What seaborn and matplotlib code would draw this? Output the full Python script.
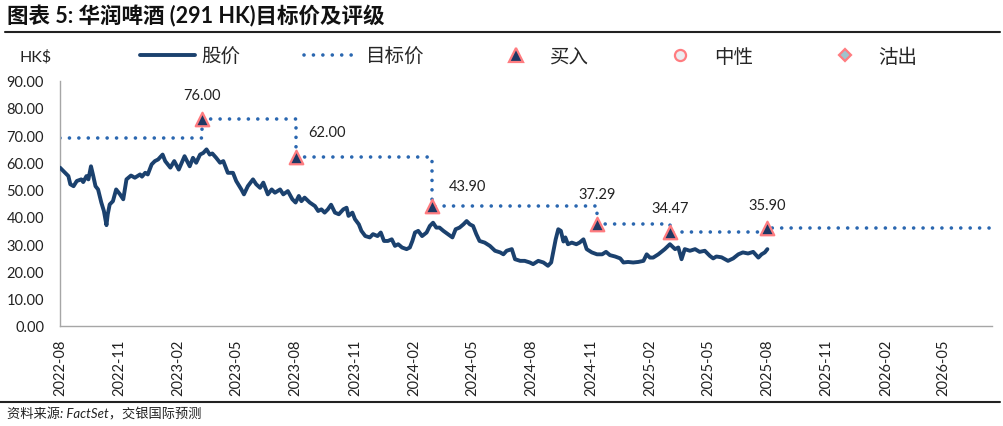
import numpy as np
import pandas as pd
import matplotlib
matplotlib.use('Agg')
import matplotlib.pyplot as plt
import matplotlib.dates as mdates
from matplotlib.lines import Line2D
from matplotlib.ticker import FormatStrFormatter
import seaborn as sns

# 股价 (HK$)
price_dates = [
    '2022-08-01', '2022-08-09', '2022-08-14', '2022-08-17', '2022-08-22', '2022-08-27',
    '2022-09-03', '2022-09-06', '2022-09-11', '2022-09-14', '2022-09-18', '2022-09-21',
    '2022-09-25', '2022-09-29', '2022-10-04', '2022-10-08', '2022-10-12', '2022-10-14',
    '2022-10-17', '2022-10-22', '2022-10-27', '2022-11-02', '2022-11-07', '2022-11-12',
    '2022-11-19', '2022-11-25', '2022-12-03', '2022-12-06', '2022-12-11', '2022-12-15',
    '2022-12-21', '2022-12-26', '2022-12-31', '2023-01-07', '2023-01-11', '2023-01-19',
    '2023-01-25', '2023-02-01', '2023-02-10', '2023-02-18', '2023-02-23', '2023-02-28',
    '2023-03-06', '2023-03-11', '2023-03-16', '2023-03-21', '2023-03-25', '2023-03-31',
    '2023-04-06', '2023-04-11', '2023-04-18', '2023-04-26', '2023-05-01', '2023-05-09',
    '2023-05-13', '2023-05-19', '2023-05-27', '2023-06-01', '2023-06-07', '2023-06-12',
    '2023-06-19', '2023-06-25', '2023-06-30', '2023-07-08', '2023-07-13', '2023-07-20',
    '2023-07-27', '2023-08-01', '2023-08-06', '2023-08-10', '2023-08-15', '2023-08-23',
    '2023-08-31', '2023-09-05', '2023-09-10', '2023-09-15', '2023-09-20', '2023-09-25',
    '2023-10-01', '2023-10-07', '2023-10-14', '2023-10-19', '2023-10-22', '2023-10-28',
    '2023-11-01', '2023-11-07', '2023-11-11', '2023-11-17', '2023-11-24', '2023-11-29',
    '2023-12-06', '2023-12-11', '2023-12-16', '2023-12-22', '2023-12-28', '2024-01-02',
    '2024-01-07', '2024-01-13', '2024-01-20', '2024-01-25', '2024-01-29', '2024-02-02',
    '2024-02-07', '2024-02-13', '2024-02-20', '2024-02-25', '2024-03-01', '2024-03-06',
    '2024-03-11', '2024-03-17', '2024-03-24', '2024-03-31', '2024-04-05', '2024-04-11',
    '2024-04-17', '2024-04-22', '2024-04-27', '2024-05-02', '2024-05-07', '2024-05-12',
    '2024-05-20', '2024-05-28', '2024-06-05', '2024-06-13', '2024-06-18', '2024-06-23',
    '2024-07-01', '2024-07-06', '2024-07-14', '2024-07-21', '2024-07-29', '2024-08-03',
    '2024-08-11', '2024-08-19', '2024-08-26', '2024-08-31', '2024-09-03', '2024-09-07',
    '2024-09-11', '2024-09-15', '2024-09-19', '2024-09-22', '2024-09-26', '2024-10-02',
    '2024-10-09', '2024-10-14', '2024-10-20', '2024-10-25', '2024-11-02', '2024-11-10',
    '2024-11-18', '2024-11-24', '2024-11-30', '2024-12-08', '2024-12-16', '2024-12-21',
    '2024-12-28', '2025-01-05', '2025-01-13', '2025-01-21', '2025-01-26', '2025-01-31',
    '2025-02-05', '2025-02-13', '2025-02-23', '2025-03-03', '2025-03-11', '2025-03-16',
    '2025-03-21', '2025-03-26', '2025-04-03', '2025-04-11', '2025-04-18', '2025-04-26',
    '2025-05-04', '2025-05-09', '2025-05-14', '2025-05-22', '2025-06-01', '2025-06-09',
    '2025-06-17', '2025-06-24', '2025-07-02', '2025-07-10', '2025-07-18', '2025-07-23',
    '2025-07-28', '2025-08-01',
]
price_values = [
    58.1, 56.2, 55.0, 52.0, 51.3, 53.2,
    53.8, 52.8, 55.0, 53.8, 58.6, 55.6,
    51.3, 50.1, 45.3, 42.2, 37.0, 41.0,
    44.6, 45.8, 50.1, 48.3, 46.5, 53.8,
    55.2, 54.4, 55.6, 54.8, 56.2, 55.6,
    59.3, 60.5, 61.1, 62.9, 60.5, 58.1,
    60.5, 57.4, 62.3, 58.6, 61.7, 59.9,
    62.9, 63.5, 64.8, 62.9, 63.3, 61.7,
    59.9, 60.5, 56.2, 56.2, 53.2, 50.1,
    48.3, 51.3, 53.8, 52.0, 50.7, 52.6,
    48.3, 50.1, 48.9, 50.1, 48.3, 49.5,
    46.5, 45.3, 47.7, 45.8, 47.1, 45.3,
    44.0, 42.2, 42.8, 41.6, 42.8, 44.5,
    41.6, 41.0, 42.8, 43.4, 40.4, 41.6,
    39.2, 37.3, 34.9, 33.0, 32.5, 33.7,
    33.0, 34.3, 31.2, 31.2, 31.8, 29.4,
    30.0, 28.8, 28.2, 28.8, 31.2, 34.3,
    34.9, 33.0, 34.3, 36.7, 37.9, 36.1,
    36.1, 34.9, 33.7, 32.5, 35.5, 36.1,
    37.3, 38.5, 37.3, 36.7, 33.7, 31.2,
    30.6, 29.4, 27.6, 27.0, 26.3, 27.6,
    28.2, 24.5, 23.9, 23.9, 23.3, 22.7,
    23.9, 23.3, 22.1, 23.3, 27.0, 31.8,
    35.5, 34.9, 31.0, 32.5, 30.0, 30.6,
    30.0, 30.6, 31.8, 28.2, 27.0, 26.3,
    26.3, 27.2, 26.0, 25.5, 24.8, 23.3,
    23.5, 23.3, 23.5, 23.9, 26.3, 25.1,
    25.1, 26.3, 28.2, 30.0, 28.2, 28.8,
    24.5, 28.2, 27.6, 28.2, 27.2, 27.6,
    25.7, 24.8, 25.5, 25.2, 23.9, 24.8,
    26.3, 27.0, 26.6, 27.2, 25.1, 26.3,
    27.0, 28.2,
]

# 目标价 / 买入 ratings
target_start_date = '2022-08-01'
target_start_value = 69.0
rating_dates = ['2023-03-09', '2023-08-02', '2024-02-29', '2024-11-10', '2025-03-03', '2025-08-01']
rating_values = [76.00, 62.00, 43.90, 37.29, 34.47, 35.90]
axis_end_date = '2026-07-15'

# label offsets (points) for the rating value labels
label_offsets = [(0, 17), (22, 18), (25, 15), (0, 22), (0, 17), (0, 17)]

price_color = '#1b416e'
target_color = '#2a67b0'
navy = '#1f3864'
pink = '#ff7c80'
gray = '#a6a6a6'

sns.set_theme(style='white')
plt.rcParams['font.family'] = ['Lato', 'Noto Sans CJK SC', 'DejaVu Sans']

price_df = pd.DataFrame({'date': pd.to_datetime(price_dates), 'price': price_values})
target_df = pd.DataFrame({
    'date': pd.to_datetime([target_start_date] + rating_dates + [axis_end_date]),
    'target': [target_start_value] + rating_values + [rating_values[-1]],
})
rating_df = pd.DataFrame({'date': pd.to_datetime(rating_dates), 'target': rating_values})

fig = plt.figure(figsize=(10.04, 4.27), dpi=100)
ax = fig.add_axes([60 / 1004, 1 - 327 / 427, (992 - 60) / 1004, (327 - 81.7) / 427])

dot_style = (0, (0.01, 2.6))
sns.lineplot(data=target_df, x='date', y='target', ax=ax, color=target_color, lw=2.6,
             drawstyle='steps-post', linestyle=dot_style, dash_capstyle='round', zorder=2)
sns.lineplot(data=price_df, x='date', y='price', ax=ax, color=price_color, lw=2.8, zorder=3)
sns.scatterplot(data=rating_df, x='date', y='target', ax=ax, marker='^', s=95,
                color=navy, edgecolor=pink, linewidth=1.6, zorder=4)

for d, v, off in zip(rating_df['date'], rating_values, label_offsets):
    ax.annotate(f'{v:.2f}', (d, v), xytext=off, textcoords='offset points',
                ha='center', va='center', fontsize=10.5, color='#222222')

ax.set_xlim(pd.Timestamp(target_start_date), pd.Timestamp(axis_end_date))
ax.set_ylim(0, 90)
ax.set_yticks(np.arange(0, 91, 10))
ax.yaxis.set_major_formatter(FormatStrFormatter('%.2f'))
ax.xaxis.set_major_locator(mdates.MonthLocator(bymonth=(2, 5, 8, 11)))
ax.xaxis.set_minor_locator(mdates.MonthLocator())
ax.xaxis.set_major_formatter(mdates.DateFormatter('%Y-%m'))
ax.set_xlabel('')
ax.set_ylabel('')

for side in ['top', 'right']:
    ax.spines[side].set_visible(False)
for side in ['left', 'bottom']:
    ax.spines[side].set_color(gray)
    ax.spines[side].set_linewidth(1.0)

ax.tick_params(axis='both', which='both', direction='out', color=gray, width=1.0)
ax.tick_params(axis='x', which='both', length=4, pad=5)
ax.tick_params(axis='y', length=4, pad=7.5)
ax.tick_params(axis='x', labelsize=10.5, labelrotation=90, labelcolor='#222222')
ax.tick_params(axis='y', labelsize=10.5, labelcolor='#222222')

# legend row
handles = [
    Line2D([], [], color=price_color, lw=2.8),
    Line2D([], [], color=target_color, lw=2.6, linestyle=dot_style, dash_capstyle='round'),
    Line2D([], [], marker='^', ls='none', ms=9.5, mfc=navy, mec=pink, mew=1.6),
    Line2D([], [], marker='o', ls='none', ms=8, mfc='#ececf0', mec=pink, mew=1.6),
    Line2D([], [], marker='D', ls='none', ms=6.5, mfc='#9fc3cc', mec=pink, mew=1.6),
]
labels = ['股价', '目标价', '买入', '中性', '沽出']
fig.legend(handles, labels, loc='center left', bbox_to_anchor=(140 / 1004, 1 - 57 / 427),
           ncol=5, frameon=False, fontsize=14, handlelength=2.85, handletextpad=0.3,
           columnspacing=3.3, borderpad=0, borderaxespad=0)
fig.text(20 / 1004, 1 - 57 / 427, 'HK$', fontsize=11.5, va='center', ha='left', color='#222222')

# title, rules and source
fig.text(7 / 1004, 1 - 16 / 427, '图表 5: 华润啤酒 (291 HK)目标价及评级', fontsize=15.5,
         fontweight='bold', va='center', ha='left', color='#111111')
fig.add_artist(Line2D([5 / 1004, 1000 / 1004], [1 - 33 / 427] * 2, transform=fig.transFigure,
                      color='#222222', lw=1.5))
fig.add_artist(Line2D([0, 1000 / 1004], [1 - 403 / 427] * 2, transform=fig.transFigure,
                      color='#222222', lw=1.5))
fig.text(7 / 1004, 1 - 414 / 427, '资料来源: FactSet，交银国际预测', fontsize=9.5,
         style='italic', va='center', ha='left', color='#222222')

fig.savefig('out.png', dpi=100)
